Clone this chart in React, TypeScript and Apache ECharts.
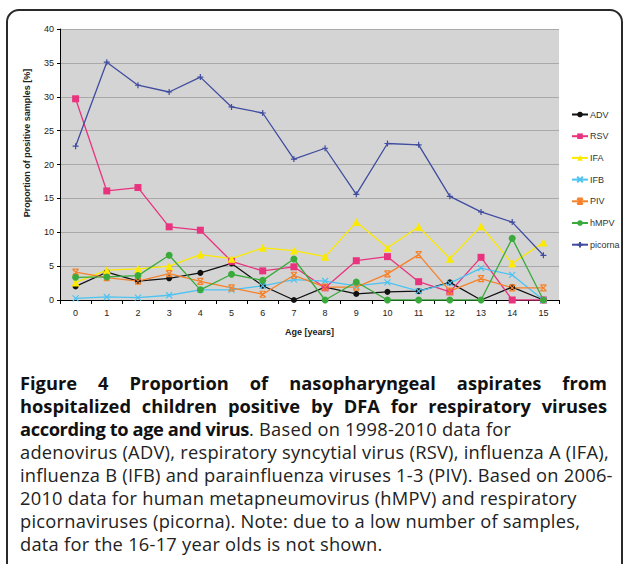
import React, { useEffect, useRef } from "react";
import * as echarts from "echarts";

const ages = ["0","1","2","3","4","5","6","7","8","9","10","11","12","13","14","15"];
const adv = [2.0, 4.1, 2.8, 3.2, 4.0, 5.4, 2.1, 0, 1.9, 0.9, 1.2, 1.3, 2.6, 0, 1.9, 0];
const rsv = [29.7, 16.1, 16.6, 10.8, 10.3, 5.7, 4.3, 4.9, 1.8, 5.8, 6.4, 2.7, 1.2, 6.3, 0, 0];
const ifa = [2.6, 4.4, 4.6, 5.0, 6.7, 6.1, 7.7, 7.3, 6.4, 11.5, 7.7, 10.8, 6.1, 10.9, 5.4, 8.5];
const ifb = [0.25, 0.45, 0.35, 0.7, 1.5, 1.5, 2.1, 3.0, 2.8, 2.1, 2.6, 1.3, 2.5, 4.7, 3.7, 0];
const piv = [4.1, 3.3, 2.8, 3.9, 2.75, 1.8, 0.85, 3.65, 1.9, 1.9, 3.85, 6.7, 1.3, 3.15, 1.8, 1.8];
const hmpv = [3.35, 3.4, 3.6, 6.6, 1.5, 3.8, 2.9, 6.05, 0, 2.65, 0, 0, 0, 0, 9.1, 0];
const picorna = [22.7, 35.1, 31.7, 30.7, 32.9, 28.5, 27.6, 20.8, 22.4, 15.6, 23.1, 22.9, 15.3, 13.0, 11.5, 6.6];
const yTicks = { min: 0, max: 40, interval: 5 };

const CROSS = "path://M0,0L10,10M10,0L0,10";
const STAR = "path://M0,0L10,10M10,0L0,10M0,0L10,0M0,10L10,10";
const PLUS = "path://M5,0L5,10M0,5L10,5";

const seriesDefs = [
  { name: "ADV", data: adv, color: "#111111", symbol: "circle", size: 6, stroke: false },
  { name: "RSV", data: rsv, color: "#e8347f", symbol: "rect", size: 7, stroke: false },
  { name: "IFA", data: ifa, color: "#fbea00", symbol: "triangle", size: 8, stroke: false },
  { name: "IFB", data: ifb, color: "#4cc3f1", symbol: CROSS, size: 6, stroke: true },
  { name: "PIV", data: piv, color: "#f5822a", symbol: STAR, size: 6, stroke: true },
  { name: "hMPV", data: hmpv, color: "#3aaa3c", symbol: "circle", size: 7, stroke: false },
  { name: "picorna", data: picorna, color: "#3f4c9f", symbol: PLUS, size: 6, stroke: true },
];

export default function App() {
  const ref = useRef<HTMLDivElement>(null);
  useEffect(() => {
    const chart = echarts.init(ref.current!, null, { renderer: "svg" });
    chart.setOption({
      animation: false,
      textStyle: { fontFamily: "Liberation Sans, Arial, sans-serif" },
      grid: {
        left: 60, top: 29, width: 499, height: 271,
        show: true, backgroundColor: "#d5d4d4", borderWidth: 0,
      },
      legend: {
        orient: "vertical", left: 571, top: 110,
        itemWidth: 16, itemHeight: 7, itemGap: 12.7, padding: 0,
        textStyle: { fontSize: 9, color: "#333", padding: [0, 0, 0, -3] },
        data: seriesDefs.map((s) => s.name),
      },
      xAxis: {
        type: "category", data: ages, boundaryGap: true,
        axisLine: { lineStyle: { color: "#000", width: 1 } },
        axisTick: { show: true, length: 4, lineStyle: { color: "#000" } },
        axisLabel: { fontSize: 9, color: "#222", margin: 8 },
        name: "Age [years]", nameLocation: "middle", nameGap: 27,
        nameTextStyle: { fontSize: 9, fontWeight: "bold", color: "#222" },
      },
      yAxis: {
        type: "value", min: yTicks.min, max: yTicks.max, interval: yTicks.interval,
        axisLine: { show: true, lineStyle: { color: "#000", width: 1 } },
        axisTick: { show: true, length: 3, lineStyle: { color: "#000" } },
        axisLabel: { fontSize: 9, color: "#222", margin: 6 },
        splitLine: { show: true, lineStyle: { color: "#a9a9a9", width: 1 } },
      },
      graphic: [
        {
          type: "rect", silent: true,
          shape: { x: 7, y: 10, width: 615, height: 600, r: 12 },
          style: { fill: "none", stroke: "#2a2a2a", lineWidth: 2 },
        },
        {
          type: "text", x: 27, y: 143, rotation: Math.PI / 2,
          style: {
            text: "Proportion of positive samples [%]",
            fontSize: 9, fontWeight: "bold", fill: "#222",
            fontFamily: "Liberation Sans, Arial, sans-serif",
            align: "center", verticalAlign: "middle",
          },
        },
      ],
      series: seriesDefs.map((s) => ({
        name: s.name, type: "line", data: s.data,
        symbol: s.symbol, symbolSize: s.size, showSymbol: true,
        lineStyle: { color: s.color, width: 1.3 },
        itemStyle: s.stroke
          ? { color: s.color, borderColor: s.color, borderWidth: 1.2 }
          : { color: s.color, borderWidth: 0 },
        emphasis: { disabled: true },
      })),
    });
    return () => chart.dispose();
  }, []);

  const bold: React.CSSProperties = { fontWeight: 700, color: "#111", letterSpacing: 0 };
  const line: React.CSSProperties = { height: 23, whiteSpace: "nowrap", letterSpacing: 0.25 };
  const just: React.CSSProperties = { ...line, textAlign: "justify", textAlignLast: "justify", whiteSpace: "normal" };

  return (
    <div style={{ position: "fixed", left: 0, top: 0, width: 624, height: 564, background: "#fff", overflow: "hidden" }}>
      <div ref={ref} style={{ position: "absolute", left: 0, top: 0, width: 624, height: 564 }} />
      <div
        style={{
          position: "absolute", left: 20, top: 371, width: 587,
          fontFamily: "'Open Sans', sans-serif", fontSize: 18.3, lineHeight: "23px", color: "#222",
        }}
      >
        <div style={{ ...just, ...bold }}>Figure 4 Proportion of nasopharyngeal aspirates from</div>
        <div style={{ ...just, ...bold }}>hospitalized children positive by DFA for respiratory viruses</div>
        <div style={line}><span style={{ ...bold, letterSpacing: -0.4 }}>according to age and virus</span>. Based on 1998-2010 data for</div>
        <div style={line}>adenovirus (ADV), respiratory syncytial virus (RSV), influenza A (IFA),</div>
        <div style={line}>influenza B (IFB) and parainfluenza viruses 1-3 (PIV). Based on 2006-</div>
        <div style={line}>2010 data for human metapneumovirus (hMPV) and respiratory</div>
        <div style={line}>picornaviruses (picorna). Note: due to a low number of samples,</div>
        <div style={line}>data for the 16-17 year olds is not shown.</div>
      </div>
    </div>
  );
}
